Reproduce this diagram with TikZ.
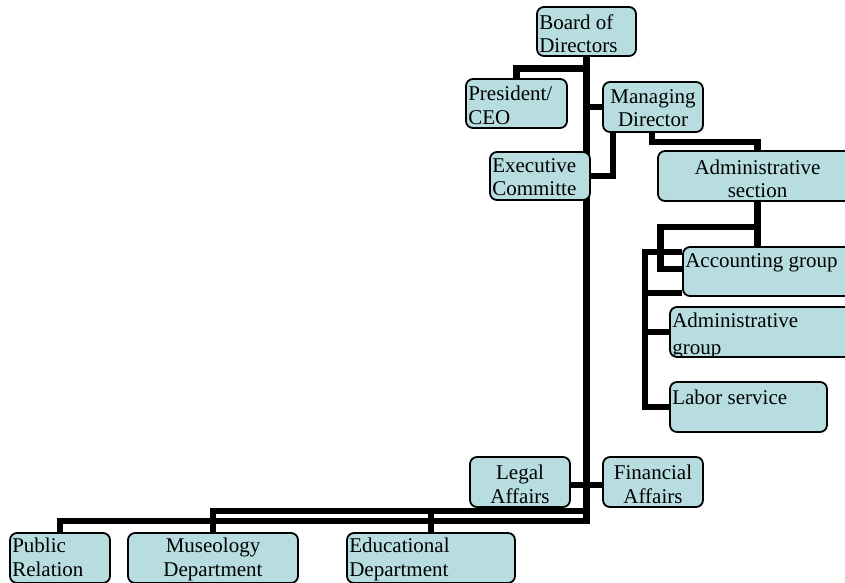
\documentclass[tikz,border=0pt]{standalone}
\usepackage{fontspec}
\setmainfont{Liberation Serif}
\usetikzlibrary{backgrounds}
\definecolor{unitblue}{RGB}{183,221,224}
\tikzset{
  unit/.style={draw=black, line width=1.8pt, fill=unitblue, rounded corners=7pt, inner sep=0pt},
  unittext/.style={inner sep=0pt, font=\fontsize{21}{23.5}\selectfont},
  link/.style={line width=6.5pt}
}
\begin{document}
\begin{tikzpicture}[x=1pt, y=-1pt]
  \useasboundingbox (0,0) rectangle (845,582);
  % boxes
  \node[unit, minimum width=99pt, minimum height=49pt] (board) at (586.5,31.5) {};
  \node[unit, minimum width=101pt, minimum height=49pt] (pres) at (516.5,103.5) {};
  \node[unit, minimum width=100pt, minimum height=50pt] (mgr) at (653,107) {};
  \node[unit, minimum width=100pt, minimum height=48pt] (exec) at (540,176) {};
  \node[unit, minimum width=199pt, minimum height=50pt] (adsec) at (757.5,176) {};
  \node[unit, minimum width=174pt, minimum height=49pt] (acc) at (770,271.5) {};
  \node[unit, minimum width=187pt, minimum height=50pt] (adgrp) at (763.5,332) {};
  \node[unit, minimum width=157pt, minimum height=50pt] (labor) at (748.5,407) {};
  \node[unit, minimum width=100pt, minimum height=50pt] (legal) at (520,482) {};
  \node[unit, minimum width=100pt, minimum height=50pt] (fin) at (653,482) {};
  \node[unit, minimum width=100pt, minimum height=50pt] (pubrel) at (60,558) {};
  \node[unit, minimum width=170pt, minimum height=50pt] (museo) at (213,558) {};
  \node[unit, minimum width=168pt, minimum height=50pt] (edu) at (431,558) {};
  % connectors
  \begin{scope}[on background layer]
  \coordinate (base) at (586.5,521);
  \coordinate (upper) at (586.5,511);
  \draw[link] (board.south) -- (base) -| (pubrel.north);
  \draw[link] (upper) -| (museo.north);
  \draw[link] (upper -| edu.north) -- (edu.north);
  \draw[link] (board.south) ++(0,11.5) -| (pres.north);
  \draw[link] (mgr.west) -- (mgr.west -| board.south);
  \draw[link] (mgr.south west) ++(11,0) |- (exec.east);
  \draw[link] (mgr.south west) ++(50,0) -- ++(0,9) -| (adsec.north);
  \draw[link] (adsec.south) -- (adsec.south |- acc.north);
  \draw[link] (adsec.south) ++(0,25) -- ++(-97,0) -- ++(0,42) -- ++(23,0);
  \draw[link] (acc.north west) ++(0,6) -- ++(-37,0) |- (labor.west);
  \draw[link] (acc.south west) ++(0,-4) -- ++(-37,0);
  \draw[link] (adgrp.west) -- ++(-24,0);
  \draw[link] (legal.east) ++(0,3) -- ++(33,0);
  \end{scope}
  % texts
  \node[unittext, anchor=north west, align=left] (board-t) at ([shift={(3,8)}]board.north west) {Board of\\Directors};
  \node[unittext, anchor=north west, align=left] (pres-t) at ([shift={(3,8)}]pres.north west) {President/\\CEO};
  \node[unittext, anchor=north, align=center] (mgr-t) at ([shift={(0,8)}]mgr.north) {Managing\\Director};
  \node[unittext, anchor=north west, align=left] (exec-t) at ([shift={(3,7)}]exec.north west) {Executive\\Committe};
  \node[unittext, anchor=north, align=center] (adsec-t) at ([shift={(0,9.5)}]adsec.north) {Administrative\\section};
  \node[unittext, anchor=north west, align=left] (acc-t) at ([shift={(3,7)}]acc.north west) {Accounting group};
  \begin{scope}
    \clip (adgrp.north west) rectangle ([shift={(0,-1)}]adgrp.south east);
    \node[unittext, anchor=north west, align=left] (adgrp-t) at ([shift={(3,7)}]adgrp.north west) {Administrative\\[3pt]group};
  \end{scope}
  \node[unittext, anchor=north west, align=left] (labor-t) at ([shift={(3,9)}]labor.north west) {Labor service};
  \node[unittext, anchor=north, align=center] (legal-t) at ([shift={(0,9)}]legal.north) {Legal\\Affairs};
  \node[unittext, anchor=north, align=center] (fin-t) at ([shift={(0,9)}]fin.north) {Financial\\Affairs};
  \node[unittext, anchor=north west, align=left] (pubrel-t) at ([shift={(3,6)}]pubrel.north west) {Public\\Relation};
  \node[unittext, anchor=north, align=center] (museo-t) at ([shift={(0,6)}]museo.north) {Museology\\Department};
  \node[unittext, anchor=north west, align=left] (edu-t) at ([shift={(3,6)}]edu.north west) {Educational\\Department};
\end{tikzpicture}
\end{document}
